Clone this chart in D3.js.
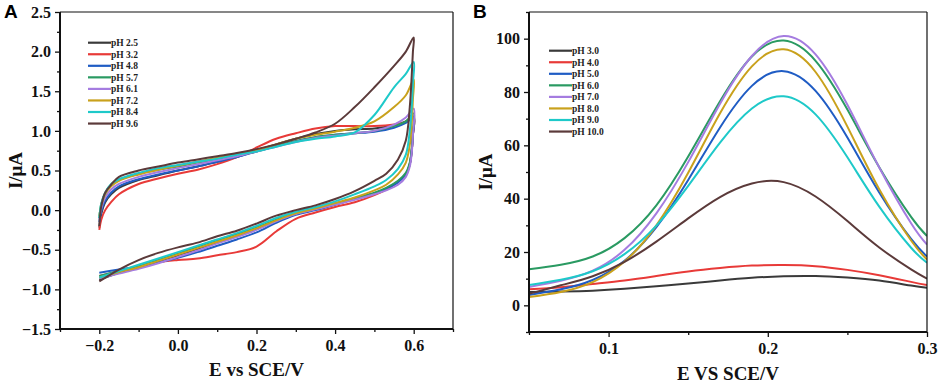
<!DOCTYPE html>
<html>
<head>
<meta charset="utf-8">
<script src="https://cdn.jsdelivr.net/npm/d3@7"></script>
<style>
  body { margin: 0; background: #fff; }
  svg text { font-family: "Liberation Serif", "Times New Roman", serif; font-weight: bold; }
  .panel-tag { font-family: "Liberation Sans", Arial, sans-serif !important; }
</style>
</head>
<body>
<div id="chart"></div>
<script>
// ---- data ----
var colors = ["#3a3a3a", "#e83a38", "#1f5cc4", "#2a9a62", "#a57ce0", "#c9a11c", "#1ec9c9", "#5b3a3a"];

// panel A: cyclic voltammograms
var cvLabels = ["pH 2.5", "pH 3.2", "pH 4.8", "pH 5.7", "pH 6.1", "pH 7.2", "pH 8.4", "pH 9.6"];
var cvForwardE = [-0.2, -0.195, -0.185, -0.17, -0.15, -0.1, -0.05, 0, 0.05, 0.1, 0.15, 0.2, 0.25, 0.3, 0.35, 0.4, 0.45, 0.5, 0.55, 0.58, 0.6];
var cvReverseE = [0.6, 0.598, 0.595, 0.59, 0.58, 0.56, 0.53, 0.5, 0.45, 0.4, 0.35, 0.3, 0.25, 0.2, 0.15, 0.1, 0.05, 0, -0.05, -0.1, -0.15, -0.2];
var cvForwardI = [
  [-0.22, -0.05, 0.1, 0.2, 0.28, 0.38, 0.44, 0.5, 0.55, 0.61, 0.67, 0.75, 0.83, 0.9, 0.96, 1.0, 1.02, 1.03, 1.07, 1.12, 1.18],
  [-0.25, -0.12, 0.0, 0.1, 0.2, 0.33, 0.4, 0.46, 0.51, 0.58, 0.67, 0.79, 0.9, 0.97, 1.03, 1.06, 1.06, 1.06, 1.08, 1.11, 1.16],
  [-0.15, -0.02, 0.12, 0.22, 0.3, 0.39, 0.45, 0.5, 0.55, 0.61, 0.67, 0.74, 0.81, 0.87, 0.92, 0.95, 0.97, 0.99, 1.04, 1.1, 1.17],
  [-0.1, 0.08, 0.22, 0.32, 0.38, 0.46, 0.51, 0.55, 0.6, 0.64, 0.69, 0.74, 0.81, 0.87, 0.92, 0.95, 0.97, 1.0, 1.06, 1.12, 1.22],
  [-0.12, 0.02, 0.16, 0.26, 0.33, 0.42, 0.48, 0.53, 0.58, 0.63, 0.68, 0.74, 0.8, 0.86, 0.91, 0.94, 0.97, 1.0, 1.08, 1.17, 1.28],
  [-0.08, 0.06, 0.2, 0.3, 0.37, 0.45, 0.51, 0.56, 0.61, 0.66, 0.71, 0.76, 0.83, 0.9, 0.95, 0.99, 1.04, 1.12, 1.3, 1.45, 1.65],
  [-0.1, 0.08, 0.22, 0.33, 0.39, 0.47, 0.53, 0.57, 0.61, 0.65, 0.7, 0.74, 0.8, 0.86, 0.9, 0.93, 0.98, 1.2, 1.55, 1.72, 1.87],
  [-0.2, 0.05, 0.22, 0.32, 0.42, 0.5, 0.55, 0.6, 0.64, 0.68, 0.72, 0.77, 0.83, 0.9, 0.98, 1.09, 1.3, 1.55, 1.82, 2.0, 2.18]
];
var cvReverseI = [
  [1.18, 0.95, 0.75, 0.58, 0.45, 0.36, 0.27, 0.21, 0.14, 0.07, 0.01, -0.05, -0.14, -0.24, -0.33, -0.41, -0.49, -0.57, -0.65, -0.72, -0.79, -0.88],
  [1.16, 0.95, 0.75, 0.58, 0.45, 0.36, 0.26, 0.19, 0.1, 0.04, -0.03, -0.11, -0.27, -0.46, -0.53, -0.57, -0.61, -0.63, -0.66, -0.72, -0.77, -0.83],
  [1.17, 0.95, 0.75, 0.58, 0.45, 0.35, 0.27, 0.21, 0.14, 0.07, 0.0, -0.06, -0.16, -0.28, -0.37, -0.45, -0.53, -0.6, -0.66, -0.71, -0.75, -0.79],
  [1.22, 1.0, 0.78, 0.6, 0.47, 0.37, 0.28, 0.22, 0.15, 0.08, 0.02, -0.03, -0.12, -0.22, -0.3, -0.38, -0.46, -0.55, -0.63, -0.71, -0.77, -0.83],
  [1.28, 0.95, 0.72, 0.55, 0.42, 0.32, 0.25, 0.2, 0.13, 0.07, 0.01, -0.05, -0.14, -0.25, -0.34, -0.42, -0.51, -0.59, -0.67, -0.74, -0.8, -0.86],
  [1.65, 1.4, 1.1, 0.82, 0.6, 0.45, 0.32, 0.25, 0.16, 0.09, 0.02, -0.04, -0.13, -0.23, -0.32, -0.4, -0.48, -0.56, -0.64, -0.72, -0.78, -0.85],
  [1.87, 1.6, 1.3, 1.0, 0.7, 0.52, 0.38, 0.3, 0.2, 0.11, 0.04, -0.02, -0.1, -0.2, -0.29, -0.37, -0.45, -0.53, -0.61, -0.69, -0.77, -0.85],
  [2.18, 2.0, 1.7, 1.3, 0.88, 0.64, 0.46, 0.37, 0.24, 0.14, 0.06, 0.0, -0.07, -0.17, -0.26, -0.33, -0.41, -0.47, -0.54, -0.63, -0.75, -0.9]
];

// panel B: differential pulse voltammograms
var dpvLabels = ["pH 3.0", "pH 4.0", "pH 5.0", "pH 6.0", "pH 7.0", "pH 8.0", "pH 9.0", "pH 10.0"];
var dpvE = [0.05, 0.07, 0.09, 0.11, 0.13, 0.15, 0.17, 0.19, 0.21, 0.23, 0.25, 0.27, 0.29, 0.30];
var dpvI = [
  [5.0, 5.2, 5.5, 6.2, 7.2, 8.2, 9.3, 10.3, 10.9, 11.0, 10.4, 9.3, 7.4, 6.6],
  [6.0, 6.8, 8.0, 9.3, 11.0, 12.7, 14.0, 14.9, 15.1, 14.7, 13.3, 11.3, 8.8, 7.6],
  [3.9, 6.0, 9.5, 16.7, 29.3, 47.0, 66.7, 82.3, 87.8, 80.4, 62.9, 42.3, 24.9, 18.3],
  [13.5, 15.2, 18.3, 25.2, 37.5, 55.8, 76.5, 93.3, 99.3, 91.7, 73.4, 51.8, 33.2, 26.0],
  [6.9, 9.2, 13.0, 20.8, 34.5, 53.7, 75.6, 93.5, 101.0, 94.1, 75.2, 51.7, 30.8, 22.8],
  [3.1, 5.0, 8.7, 16.4, 30.0, 49.7, 72.0, 89.6, 96.0, 87.5, 67.0, 43.5, 24.3, 17.2],
  [7.6, 9.6, 12.8, 19.2, 29.9, 44.8, 61.0, 73.8, 78.4, 71.6, 55.5, 37.0, 21.6, 16.0],
  [4.3, 7.5, 10.9, 16.3, 23.9, 32.6, 40.6, 45.7, 46.2, 40.8, 31.6, 21.7, 13.5, 10.0]
];

// ---- drawing ----
var svg = d3.select("#chart").append("svg")
    .attr("width", 941)
    .attr("height", 384);

function drawPanel(opt) {
    var x = d3.scaleLinear().domain(opt.xDomain).range([opt.left, opt.right]);
    var y = d3.scaleLinear().domain(opt.yDomain).range([opt.bottom, opt.top]);
    var g = svg.append("g");

    // minor ticks
    g.append("g")
        .attr("transform", "translate(0," + opt.bottom + ")")
        .call(d3.axisBottom(x).tickValues(opt.xMinor).tickSize(3).tickFormat(""))
        .call(function(s) { s.select(".domain").remove(); });
    g.append("g")
        .attr("transform", "translate(" + opt.left + ",0)")
        .call(d3.axisLeft(y).tickValues(opt.yMinor).tickSize(3).tickFormat(""))
        .call(function(s) { s.select(".domain").remove(); });

    // major ticks with labels
    var xa = g.append("g")
        .attr("transform", "translate(0," + opt.bottom + ")")
        .call(d3.axisBottom(x).tickValues(opt.xTicks).tickSize(5).tickPadding(6).tickSizeOuter(0).tickFormat(opt.xFormat));
    var ya = g.append("g")
        .attr("transform", "translate(" + opt.left + ",0)")
        .call(d3.axisLeft(y).tickValues(opt.yTicks).tickSize(5).tickPadding(4).tickSizeOuter(0).tickFormat(opt.yFormat));
    [xa, ya].forEach(function(a) {
        a.select(".domain").remove();
        a.selectAll("text").attr("font-size", 16).attr("fill", "#111");
    });
    g.selectAll(".tick line").attr("stroke", "#111").attr("stroke-width", 1.3);

    // curves
    var clipId = "clip" + opt.id;
    svg.append("clipPath").attr("id", clipId).append("rect")
        .attr("x", opt.left).attr("y", opt.top)
        .attr("width", opt.right - opt.left).attr("height", opt.bottom - opt.top);
    var line = d3.line()
        .x(function(d) { return x(d[0]); })
        .y(function(d) { return y(d[1]); })
        .curve(opt.curve);
    g.append("g").attr("clip-path", "url(#" + clipId + ")")
        .selectAll("path")
        .data(opt.series)
        .join("path")
        .attr("d", function(d) { return line(d.points); })
        .attr("fill", "none")
        .attr("stroke", function(d) { return d.color; })
        .attr("stroke-width", 2)
        .attr("stroke-linejoin", "round");

    // frame
    g.append("line").attr("x1", opt.left).attr("x2", opt.right).attr("y1", opt.top).attr("y2", opt.top)
        .attr("stroke", "#111").attr("stroke-width", 1.2);
    g.append("line").attr("x1", opt.right).attr("x2", opt.right).attr("y1", opt.top).attr("y2", opt.bottom)
        .attr("stroke", "#111").attr("stroke-width", 1.2);
    g.append("line").attr("x1", opt.left).attr("x2", opt.left).attr("y1", opt.top).attr("y2", opt.bottom + 1)
        .attr("stroke", "#111").attr("stroke-width", 2);
    g.append("line").attr("x1", opt.left - 1).attr("x2", opt.right).attr("y1", opt.bottom).attr("y2", opt.bottom)
        .attr("stroke", "#111").attr("stroke-width", 2);

    // legend
    var lg = g.append("g");
    opt.series.forEach(function(s, i) {
        var ly = opt.legendY + i * 11.55;
        lg.append("line").attr("x1", opt.legendX).attr("x2", opt.legendX + 23)
            .attr("y1", ly).attr("y2", ly)
            .attr("stroke", s.color).attr("stroke-width", 2.2);
        lg.append("text").attr("x", opt.legendX + 23).attr("y", ly + 3.3)
            .attr("font-size", 9.5).attr("fill", "#222").text(s.label);
    });

    // axis titles
    g.append("text")
        .attr("x", (opt.left + opt.right) / 2).attr("y", opt.titleY)
        .attr("text-anchor", "middle").attr("font-size", 19).attr("fill", "#111")
        .text(opt.xTitle);
    g.append("text")
        .attr("transform", "translate(" + opt.yTitleX + "," + ((opt.top + opt.bottom) / 2) + ") rotate(-90)")
        .attr("text-anchor", "middle").attr("dy", "0.35em").attr("font-size", 19).attr("fill", "#111")
        .text("I/\u03bcA");

    // panel tag
    g.append("text").attr("class", "panel-tag")
        .attr("x", opt.tagX).attr("y", 18)
        .attr("font-size", 19).attr("fill", "#000")
        .text(opt.tag);
}

var cvSeries = cvLabels.map(function(label, i) {
    var pts = cvForwardE.map(function(e, j) { return [e, cvForwardI[i][j]]; })
        .concat(cvReverseE.slice(1).map(function(e, j) { return [e, cvReverseI[i][j + 1]]; }));
    return {label: label, color: colors[i], points: pts};
});
var dpvSeries = dpvLabels.map(function(label, i) {
    return {label: label, color: colors[i], points: dpvE.map(function(e, j) { return [e, dpvI[i][j]]; })};
});

drawPanel({
    id: "A", tag: "A", tagX: 4,
    left: 60, right: 453, top: 12, bottom: 329,
    xDomain: [-0.3, 0.7], yDomain: [-1.5, 2.5],
    xTicks: [-0.2, 0.0, 0.2, 0.4, 0.6], xMinor: [-0.3, -0.1, 0.1, 0.3, 0.5, 0.7],
    yTicks: d3.range(-1.5, 2.51, 0.5), yMinor: d3.range(-1.25, 2.5, 0.5),
    xFormat: d3.format(".1f"), yFormat: d3.format(".1f"),
    xTitle: "E vs SCE/V", titleY: 376, yTitleX: 15,
    curve: d3.curveCatmullRom.alpha(0.5),
    legendX: 88, legendY: 42.7,
    series: cvSeries
});

drawPanel({
    id: "B", tag: "B", tagX: 473,
    left: 529, right: 927, top: 12, bottom: 332,
    xDomain: [0.05, 0.3], yDomain: [-10, 110],
    xTicks: [0.1, 0.2, 0.3], xMinor: [0.05, 0.15, 0.25],
    yTicks: [0, 20, 40, 60, 80, 100], yMinor: [-10, 10, 30, 50, 70, 90, 110],
    xFormat: d3.format(".1f"), yFormat: d3.format("d"),
    xTitle: "E VS SCE/V", titleY: 380, yTitleX: 485,
    curve: d3.curveNatural,
    legendX: 549, legendY: 50.7,
    series: dpvSeries
});
</script>
</body>
</html>
